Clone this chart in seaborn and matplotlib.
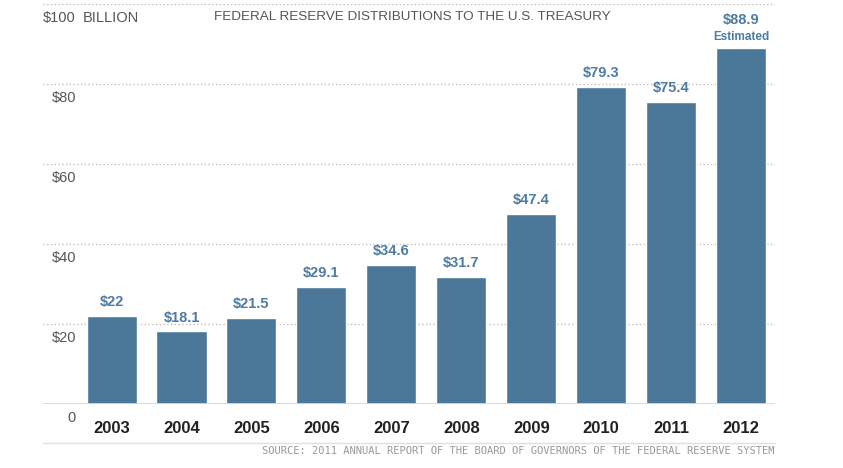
import matplotlib
matplotlib.use("Agg")
import matplotlib.pyplot as plt
import seaborn as sns
import pandas as pd

# data ($ billion)
years = ['2003', '2004', '2005', '2006', '2007', '2008', '2009', '2010', '2011', '2012']
values = [22, 18.1, 21.5, 29.1, 34.6, 31.7, 47.4, 79.3, 75.4, 88.9]
value_labels = ['$22', '$18.1', '$21.5', '$29.1', '$34.6', '$31.7', '$47.4', '$79.3', '$75.4', '$88.9']
y_ticks = [0, 20, 40, 60, 80, 100]
y_tick_labels = ['0', '$20', '$40', '$60', '$80', '$100']

df = pd.DataFrame({'year': years, 'value': values})

sns.set_style("white")
plt.rcParams['font.family'] = ['Liberation Sans', 'DejaVu Sans']

fig = plt.figure(figsize=(8.43, 4.68), dpi=100)
ax = fig.add_axes([0.051, 0.137, 0.868, 0.855])

bar_color = '#4b7899'
text_blue = '#4d7ba3'

sns.barplot(data=df, x='year', y='value', color=bar_color, width=0.715,
            saturation=1, ax=ax, zorder=3)

ax.set_ylim(0, 100)
ax.set_xlim(-0.98, 9.48)
for s in ax.spines.values():
    s.set_visible(False)
ax.set_xlabel('')
ax.set_ylabel('')
ax.set_yticks([])

# dotted gridlines behind bars
for t in y_ticks[1:]:
    ax.axhline(t, color='#b5b5b5', lw=0.9, ls=(0, (1, 2)), zorder=1)
ax.axhline(0, color='#d8d8d8', lw=2, zorder=4)

# y labels sit under their gridline
for t, lab in zip(y_ticks, y_tick_labels):
    ax.annotate(lab, xy=(0.045, t), xycoords=('axes fraction', 'data'),
                xytext=(0, -5), textcoords='offset points',
                ha='right', va='top', fontsize=10.5, color='#555555')
ax.annotate('BILLION', xy=(0.054, 100), xycoords=('axes fraction', 'data'),
            xytext=(0, -5), textcoords='offset points',
            ha='left', va='top', fontsize=10.5, color='#555555')
ax.annotate('FEDERAL RESERVE DISTRIBUTIONS TO THE U.S. TREASURY', xy=(0.234, 100),
            xycoords=('axes fraction', 'data'), xytext=(0, -5), textcoords='offset points',
            ha='left', va='top', fontsize=9.7, color='#555555')

# year labels
ax.tick_params(axis='x', length=0, pad=12)
for lbl in ax.get_xticklabels():
    lbl.set_fontweight('bold')
    lbl.set_fontsize(12)
    lbl.set_color('#222222')

# value labels above bars
for i, (bar, lab) in enumerate(zip(ax.patches, value_labels)):
    cx = bar.get_x() + bar.get_width() / 2
    h = bar.get_height()
    off = 5 if i < len(value_labels) - 1 else 15
    ax.annotate(lab, (cx, h), xytext=(0, off), textcoords='offset points',
                ha='center', va='bottom', fontsize=10.5, fontweight='bold', color=text_blue)
last = ax.patches[len(value_labels) - 1]
ax.annotate('Estimated', (last.get_x() + last.get_width() / 2, last.get_height()),
            xytext=(0, 4), textcoords='offset points', ha='center', va='bottom',
            fontsize=8.5, fontweight='bold', color=text_blue)

# bottom rule and source line
fig.add_artist(plt.Line2D([0.051, 0.919], [0.053, 0.053], color='#e0e0e0', lw=1))
fig.text(0.919, 0.046, 'SOURCE: 2011 ANNUAL REPORT OF THE BOARD OF GOVERNORS OF THE FEDERAL RESERVE SYSTEM',
         ha='right', va='top', fontsize=7.5, color='#999999', family='DejaVu Sans Mono')

fig.savefig('out.png', dpi=100)
